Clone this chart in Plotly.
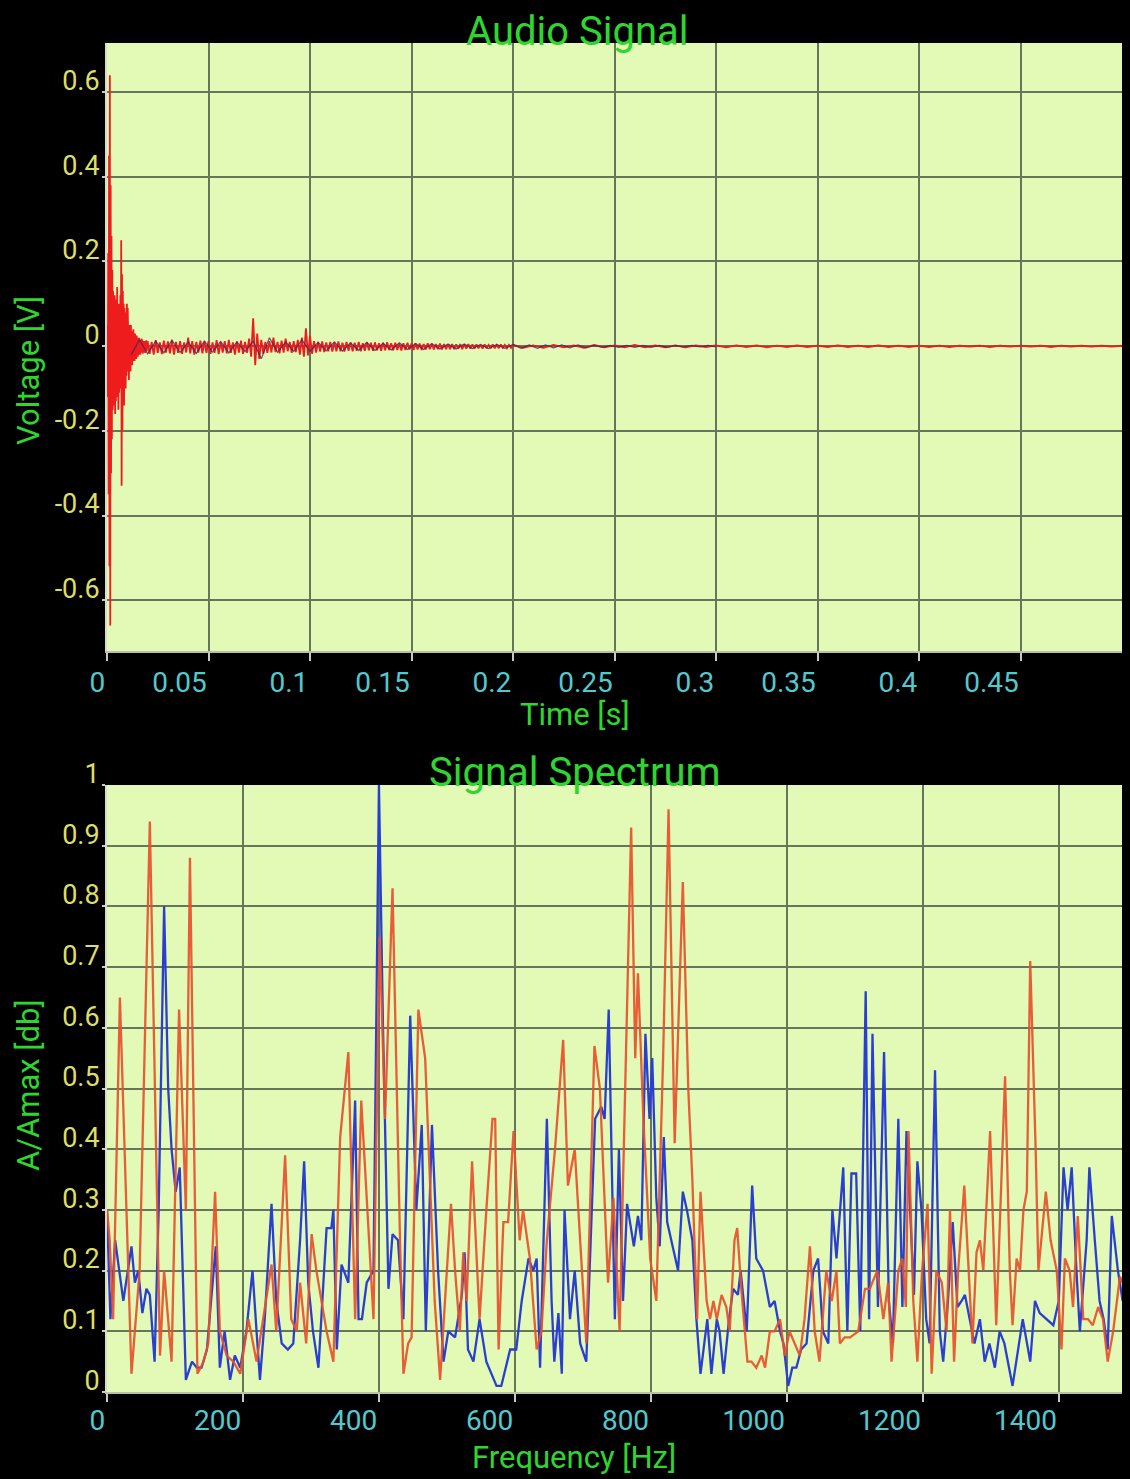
import numpy as np
import plotly.graph_objects as go

# ---------------- DATA ----------------
# Audio signal (voltage samples), three recording segments with their sample clocks
seg_a_start, seg_a_step = 0.0, 0.0002
voltage_a = [
    0.0, 0.05, -0.12, 0.22, -0.35, 0.45, -0.52, 0.64, -0.66, 0.38,
    -0.3, 0.26, -0.22, 0.18, -0.15, 0.13, -0.14, 0.09, -0.11, 0.12,
    -0.16, 0.1, -0.13, 0.11, -0.09, 0.14, -0.12, 0.09, -0.15, 0.1,
    -0.11, 0.08, -0.1, 0.12, -0.08, 0.25, -0.33, 0.17, -0.2, 0.13,
    -0.12, 0.1, -0.14, 0.09, -0.08, 0.08, -0.1, 0.06, -0.07, 0.1,
    -0.06, 0.09, -0.05, 0.06, -0.08, 0.05, -0.05, 0.04, -0.06, 0.05,
    -0.04, 0.035, -0.045, 0.03, -0.035, 0.04, -0.03, 0.025, -0.035, 0.03,
    -0.025, 0.02, -0.03, 0.025, -0.02, 0.02, -0.025, 0.015, -0.02, 0.02,
    -0.018, 0.015, -0.02, 0.012, -0.015, 0.018, -0.012, 0.015, -0.018, 0.01,
    -0.015, 0.012, -0.014, 0.01, -0.016, 0.012, -0.01, 0.014, -0.012, 0.01,
]
seg_b_start, seg_b_step = 0.02, 0.001
voltage_b = [
    0.012, -0.018, 0.01, -0.02, 0.014, -0.016, 0.009, -0.019, 0.013, -0.015,
    0.011, -0.017, 0.015, -0.02, 0.01, -0.016, 0.012, -0.018, 0.009, -0.015,
    0.02, -0.017, 0.012, -0.02, 0.01, -0.015, 0.013, -0.017, 0.011, -0.016,
    0.012, -0.018, 0.009, -0.016, 0.014, -0.019, 0.01, -0.015, 0.012, -0.017,
    0.015, -0.016, 0.009, -0.02, 0.011, -0.015, 0.013, -0.018, 0.01, -0.016,
    0.018, -0.025, 0.066, -0.045, 0.03, -0.03, 0.015, -0.018, 0.01, -0.016,
    0.012, -0.015, 0.02, -0.014, 0.01, -0.017, 0.013, -0.015, 0.018, -0.012,
    0.01, -0.016, 0.012, -0.014, 0.015, -0.02, 0.02, -0.025, 0.042, -0.022,
    0.025, -0.018, 0.012, -0.015, 0.01, -0.013, 0.011, -0.014, 0.009, -0.012,
    0.01, -0.013, 0.009, -0.012, 0.011, -0.012, 0.008, -0.013, 0.01, -0.011,
    0.009, -0.012, 0.008, -0.011, 0.01, -0.012, 0.007, -0.011, 0.009, -0.01,
    0.008, -0.011, 0.009, -0.01, 0.007, -0.011, 0.008, -0.01, 0.009, -0.009,
    0.007, -0.01, 0.008, -0.009, 0.006, -0.01, 0.007, -0.009, 0.008, -0.008,
    0.006, -0.009, 0.007, -0.008, 0.006, -0.009, 0.005, -0.008, 0.007, -0.007,
    0.006, -0.008, 0.005, -0.007, 0.006, -0.008, 0.005, -0.007, 0.004, -0.007,
    0.005, -0.007, 0.004, -0.006, 0.005, -0.007, 0.004, -0.006, 0.005, -0.006,
    0.004, -0.006, 0.004, -0.005, 0.003, -0.006, 0.004, -0.005, 0.003, -0.005,
    0.004, -0.005, 0.003, -0.005, 0.004, -0.004, 0.003, -0.005, 0.003, -0.004,
]
seg_c_start, seg_c_step = 0.2, 0.005
voltage_c = [
    0.003, -0.004, 0.002, -0.004, 0.003, -0.003, 0.002, -0.004, 0.003, -0.003,
    0.002, -0.003, 0.003, -0.003, 0.002, -0.003, 0.002, -0.003, 0.002, -0.002,
    0.002, -0.003, 0.002, -0.002, 0.002, -0.003, 0.001, -0.002, 0.002, -0.002,
    0.001, -0.002, 0.002, -0.002, 0.001, -0.002, 0.002, -0.002, 0.001, -0.002,
    0.001, -0.002, 0.001, -0.002, 0.001, -0.001, 0.001, -0.002, 0.001, -0.001,
    0.001, -0.001, 0.001, -0.002, 0.001, -0.001, 0.001, -0.001, 0.001, -0.001, 0.001,
]
# second (dark) channel
ch2_start, ch2_step = 0.012, 0.004
voltage_ch2 = [
    -0.02, 0.015, -0.018, 0.012, -0.016, 0.014, -0.015, 0.01, -0.017, 0.012,
    -0.014, 0.011, -0.016, 0.01, -0.013, 0.012, -0.03, 0.02, -0.014, 0.01,
    -0.012, 0.015, -0.012, 0.009, -0.011, 0.01, -0.012, 0.008, -0.01, 0.009,
    -0.01, 0.007, -0.009, 0.008, -0.008, 0.006, -0.008, 0.006, -0.007, 0.005,
    -0.007, 0.005, -0.006, 0.004, -0.006, 0.004, -0.005, 0.004, -0.005, 0.003,
    -0.005, 0.003, -0.004, 0.003, -0.004, 0.003, -0.004, 0.002, -0.003, 0.002,
    -0.003, 0.002, -0.003, 0.002, -0.003, 0.002, -0.003, 0.002, -0.002, 0.002,
    -0.002, 0.002, -0.002,
]

# Signal spectrum: (frequency Hz, A/Amax)
spectrum_red = [
    (0, 0.30), (4, 0.25), (9, 0.12), (19, 0.65), (36, 0.03), (48, 0.20), (63, 0.94), (78, 0.06),
    (84, 0.20), (95, 0.05), (106, 0.63), (116, 0.30), (122, 0.88), (133, 0.03), (142, 0.05),
    (149, 0.08), (159, 0.33), (166, 0.10), (176, 0.06), (186, 0.05), (196, 0.03), (208, 0.12),
    (220, 0.05), (230, 0.12), (242, 0.21), (249, 0.10), (262, 0.39), (271, 0.12), (279, 0.10),
    (284, 0.18), (293, 0.08), (301, 0.26), (308, 0.20), (323, 0.10), (333, 0.05), (343, 0.42),
    (355, 0.56), (365, 0.12), (374, 0.48), (392, 0.12), (401, 0.75), (409, 0.45), (420, 0.83),
    (431, 0.25), (436, 0.03), (443, 0.08), (448, 0.09), (458, 0.63), (468, 0.55), (475, 0.35),
    (482, 0.15), (490, 0.02), (497, 0.15), (506, 0.31), (512, 0.20), (519, 0.10), (524, 0.23),
    (529, 0.15), (537, 0.38), (548, 0.12), (558, 0.30), (567, 0.45), (571, 0.45), (576, 0.07),
    (583, 0.28), (590, 0.28), (598, 0.43), (607, 0.25), (612, 0.30), (622, 0.22), (632, 0.07),
    (639, 0.10), (647, 0.25), (659, 0.40), (671, 0.58), (678, 0.34), (688, 0.40), (698, 0.20),
    (705, 0.08), (717, 0.57), (725, 0.50), (737, 0.18), (745, 0.32), (754, 0.10), (762, 0.50),
    (771, 0.93), (777, 0.55), (781, 0.69), (789, 0.45), (799, 0.22), (808, 0.15), (818, 0.55),
    (826, 0.96), (835, 0.41), (847, 0.84), (855, 0.50), (861, 0.35), (868, 0.12), (873, 0.33),
    (882, 0.15), (887, 0.12), (892, 0.15), (897, 0.12), (904, 0.16), (911, 0.14), (916, 0.10),
    (923, 0.25), (927, 0.27), (933, 0.17), (942, 0.05), (948, 0.05), (955, 0.04), (963, 0.06),
    (968, 0.04), (975, 0.10), (982, 0.10), (990, 0.12), (997, 0.06), (1004, 0.10), (1012, 0.08),
    (1019, 0.06), (1026, 0.12), (1034, 0.24), (1041, 0.10), (1048, 0.05), (1058, 0.20),
    (1066, 0.15), (1073, 0.20), (1078, 0.08), (1085, 0.09), (1093, 0.09), (1105, 0.10),
    (1115, 0.17), (1122, 0.17), (1133, 0.20), (1142, 0.12), (1149, 0.18), (1154, 0.05),
    (1164, 0.20), (1170, 0.22), (1175, 0.14), (1179, 0.43), (1186, 0.15), (1192, 0.05),
    (1199, 0.20), (1207, 0.31), (1213, 0.03), (1220, 0.20), (1228, 0.18), (1235, 0.10),
    (1240, 0.30), (1246, 0.05), (1252, 0.20), (1261, 0.34), (1269, 0.15), (1273, 0.08),
    (1279, 0.23), (1284, 0.25), (1289, 0.20), (1299, 0.43), (1308, 0.11), (1316, 0.35),
    (1321, 0.52), (1328, 0.20), (1332, 0.11), (1338, 0.22), (1343, 0.20), (1348, 0.30),
    (1353, 0.33), (1358, 0.71), (1366, 0.40), (1370, 0.20), (1374, 0.25), (1381, 0.33),
    (1388, 0.25), (1397, 0.20), (1404, 0.07), (1409, 0.22), (1416, 0.20), (1421, 0.14),
    (1428, 0.29), (1436, 0.12), (1443, 0.12), (1450, 0.11), (1458, 0.14), (1465, 0.12),
    (1472, 0.05), (1480, 0.10), (1490, 0.19), (1494, 0.18),
]
spectrum_blue = [
    (0, 0.30), (5, 0.12), (12, 0.25), (24, 0.15), (36, 0.24), (41, 0.18), (46, 0.20), (52, 0.13),
    (58, 0.17), (63, 0.16), (70, 0.05), (76, 0.30), (84, 0.80), (90, 0.50), (95, 0.40),
    (101, 0.33), (107, 0.37), (116, 0.02), (125, 0.05), (132, 0.04), (139, 0.04), (147, 0.07),
    (160, 0.24), (166, 0.04), (173, 0.10), (181, 0.02), (188, 0.06), (196, 0.04), (205, 0.10),
    (214, 0.20), (220, 0.10), (225, 0.02), (232, 0.12), (242, 0.31), (249, 0.15), (257, 0.08),
    (266, 0.07), (274, 0.08), (284, 0.25), (290, 0.38), (296, 0.18), (303, 0.10), (311, 0.04),
    (323, 0.27), (330, 0.27), (333, 0.30), (338, 0.07), (345, 0.21), (355, 0.18), (365, 0.48),
    (370, 0.12), (375, 0.12), (382, 0.18), (392, 0.20), (400, 1.00), (406, 0.60), (414, 0.17),
    (420, 0.26), (428, 0.25), (436, 0.12), (446, 0.62), (455, 0.30), (463, 0.44), (469, 0.10),
    (478, 0.44), (487, 0.20), (495, 0.05), (502, 0.10), (512, 0.09), (522, 0.16), (526, 0.23),
    (531, 0.07), (539, 0.05), (548, 0.12), (558, 0.05), (566, 0.03), (573, 0.01), (580, 0.01),
    (593, 0.07), (602, 0.07), (610, 0.15), (620, 0.22), (627, 0.20), (632, 0.22), (637, 0.04),
    (647, 0.45), (654, 0.15), (658, 0.05), (664, 0.13), (669, 0.03), (673, 0.30), (681, 0.12),
    (688, 0.20), (696, 0.08), (705, 0.05), (718, 0.45), (727, 0.47), (732, 0.45), (738, 0.63),
    (747, 0.12), (753, 0.40), (759, 0.15), (765, 0.31), (775, 0.24), (781, 0.29), (786, 0.25),
    (792, 0.59), (798, 0.45), (802, 0.55), (808, 0.32), (813, 0.24), (819, 0.42), (824, 0.28),
    (840, 0.20), (847, 0.33), (853, 0.30), (861, 0.25), (867, 0.12), (873, 0.03), (883, 0.12),
    (889, 0.03), (897, 0.12), (901, 0.10), (907, 0.03), (915, 0.12), (921, 0.17), (928, 0.16),
    (932, 0.20), (941, 0.10), (949, 0.34), (955, 0.22), (965, 0.20), (975, 0.14), (982, 0.15),
    (990, 0.10), (995, 0.08), (1002, 0.01), (1008, 0.04), (1014, 0.04), (1021, 0.07),
    (1029, 0.08), (1039, 0.20), (1046, 0.22), (1053, 0.10), (1061, 0.08), (1067, 0.30),
    (1073, 0.22), (1083, 0.37), (1089, 0.10), (1095, 0.36), (1102, 0.36), (1108, 0.10),
    (1116, 0.66), (1121, 0.12), (1126, 0.59), (1134, 0.14), (1143, 0.56), (1150, 0.15),
    (1156, 0.08), (1164, 0.45), (1170, 0.14), (1176, 0.43), (1181, 0.30), (1187, 0.16),
    (1192, 0.38), (1198, 0.30), (1205, 0.12), (1210, 0.08), (1218, 0.53), (1225, 0.10),
    (1230, 0.05), (1237, 0.15), (1244, 0.28), (1251, 0.14), (1257, 0.15), (1262, 0.16),
    (1269, 0.12), (1276, 0.08), (1284, 0.12), (1291, 0.05), (1298, 0.08), (1306, 0.04),
    (1313, 0.10), (1320, 0.08), (1332, 0.01), (1340, 0.07), (1347, 0.12), (1358, 0.05),
    (1365, 0.15), (1372, 0.13), (1382, 0.12), (1392, 0.11), (1400, 0.15), (1407, 0.37),
    (1413, 0.30), (1419, 0.37), (1426, 0.20), (1431, 0.10), (1441, 0.25), (1445, 0.37),
    (1453, 0.25), (1460, 0.15), (1466, 0.12), (1472, 0.07), (1478, 0.29), (1487, 0.20),
    (1494, 0.15),
]

# Tick labels
time_ticks = [0, 0.05, 0.1, 0.15, 0.2, 0.25, 0.3, 0.35, 0.4, 0.45]
time_labels = ["0", "0.05", "0.1", "0.15", "0.2", "0.25", "0.3", "0.35", "0.4", "0.45"]
volt_ticks = [-0.6, -0.4, -0.2, 0, 0.2, 0.4, 0.6]
volt_labels = ["-0.6", "-0.4", "-0.2", "0", "0.2", "0.4", "0.6"]
freq_ticks = [0, 200, 400, 600, 800, 1000, 1200, 1400]
freq_labels = ["0", "200", "400", "600", "800", "1000", "1200", "1400"]
amp_ticks = [0, 0.1, 0.2, 0.3, 0.4, 0.5, 0.6, 0.7, 0.8, 0.9, 1]
amp_labels = ["0", "0.1", "0.2", "0.3", "0.4", "0.5", "0.6", "0.7", "0.8", "0.9", "1"]

# ---------------- FIGURE ----------------
W, H = 1130, 1479
GREEN = "#2fd62f"
YELLOW = "#dede66"
CYAN = "#52c9cf"
PLOT_BG = "#e3f9b6"
GRID = "#66765a"
FONT = "Roboto"


def seg_times(start, step, values):
    return start + step * np.arange(len(values))


t_main = np.concatenate([
    seg_times(seg_a_start, seg_a_step, voltage_a),
    seg_times(seg_b_start, seg_b_step, voltage_b),
    seg_times(seg_c_start, seg_c_step, voltage_c),
])
v_main = voltage_a + voltage_b + voltage_c
t_ch2 = seg_times(ch2_start, ch2_step, voltage_ch2)

fig = go.Figure()
fig.add_trace(go.Scatter(x=t_main, y=v_main, mode="lines",
                         line=dict(color="#ee1c1c", width=1.8), xaxis="x", yaxis="y"))
fig.add_trace(go.Scatter(x=t_ch2, y=voltage_ch2, mode="lines",
                         line=dict(color="#4a2460", width=1.2), opacity=0.8, xaxis="x", yaxis="y"))

bf = [p[0] for p in spectrum_blue]
ba = [p[1] for p in spectrum_blue]
rf = [p[0] for p in spectrum_red]
ra = [p[1] for p in spectrum_red]
fig.add_trace(go.Scatter(x=bf, y=ba, mode="lines", line=dict(color="#2a3fd0", width=2.3),
                         xaxis="x2", yaxis="y2"))
fig.add_trace(go.Scatter(x=rf, y=ra, mode="lines", line=dict(color="#e8512c", width=2.3),
                         opacity=0.92, xaxis="x2", yaxis="y2"))

xdom = [107 / W, 1122 / W]
top_dom = [1 - 651 / H, 1 - 43 / H]
bot_dom = [1 - 1392 / H, 1 - 785 / H]

common_x = dict(showgrid=True, gridcolor=GRID, gridwidth=2, zeroline=False,
                ticks="outside", ticklen=8, tickcolor="#c8c8c8", tickwidth=1.5,
                ticklabelposition="outside left",
                showline=True, linecolor="#b9c2a6", linewidth=2,
                tickfont=dict(family=FONT, size=28, color=CYAN), automargin=False, fixedrange=True)
common_y = dict(showgrid=True, gridcolor=GRID, gridwidth=2, zeroline=False,
                ticks="outside", ticklen=3, tickcolor="#c8c8c8", tickwidth=1.5,
                ticklabelposition="outside top", ticklabelshift=8, ticklabelstandoff=0,
                showline=True, linecolor="#d8dcc8", linewidth=2,
                tickfont=dict(family=FONT, size=27, color=YELLOW), automargin=False, fixedrange=True)

fig.update_layout(
    width=W, height=H, margin=dict(l=0, r=0, t=0, b=0),
    paper_bgcolor="black", plot_bgcolor=PLOT_BG, showlegend=False, template="none",
    font=dict(family=FONT),
    xaxis=dict(domain=xdom, anchor="y", range=[0, 0.5], tickvals=time_ticks, ticktext=time_labels,
               ticklabelstandoff=5, **common_x),
    yaxis=dict(domain=top_dom, anchor="x", range=[-0.72, 0.716], tickvals=volt_ticks, ticktext=volt_labels, **common_y),
    xaxis2=dict(domain=xdom, anchor="y2", range=[0, 1493], tickvals=freq_ticks, ticktext=freq_labels,
                ticklabelstandoff=2, **common_x),
    yaxis2=dict(domain=bot_dom, anchor="x2", range=[0, 1], tickvals=amp_ticks, ticktext=amp_labels, **common_y),
)

def label(text, xpx, ypx, size, angle=0):
    fig.add_annotation(text=text, x=xpx / W, y=1 - ypx / H, xref="paper", yref="paper",
                       xanchor="center", yanchor="middle", showarrow=False, textangle=angle,
                       font=dict(family=FONT, size=size, color=GREEN))

label("Audio Signal", 577, 31, 40)
label("Time [s]", 575, 714, 31)
label("Voltage [V]", 28, 371, 31, -90)
label("Signal Spectrum", 575, 772, 40)
label("Frequency [Hz]", 574, 1457, 31)
label("A/Amax [db]", 28, 1085, 31, -90)

fig.write_html("out.html")
